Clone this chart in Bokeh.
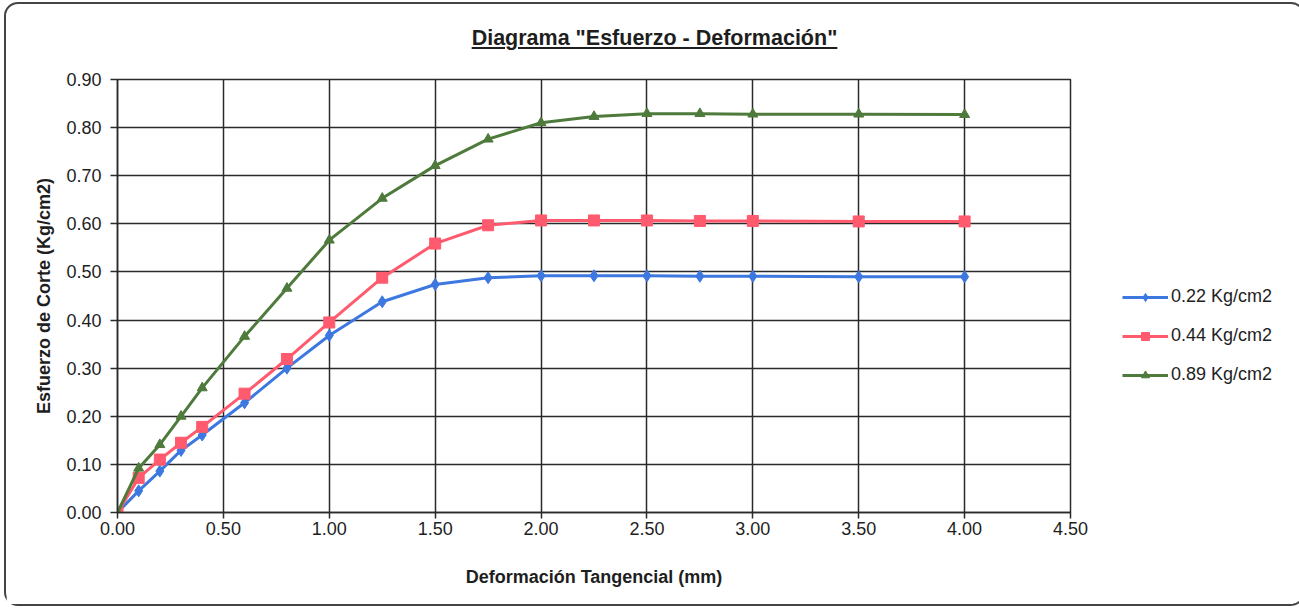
from bokeh.plotting import figure
from bokeh.models import Legend, LegendItem, Div, FixedTicker, NumeralTickFormatter
from bokeh.layouts import column, row
from bokeh.embed import file_html
from bokeh.resources import INLINE

# ---- data ----
deformacion = [0, 0.1, 0.2, 0.3, 0.4, 0.6, 0.8, 1.0, 1.25, 1.5, 1.75, 2.0, 2.25, 2.5, 2.75, 3.0, 3.5, 4.0]
esf_022 = [0, 0.045, 0.086, 0.129, 0.161, 0.228, 0.300, 0.368, 0.438, 0.474, 0.488, 0.492, 0.492, 0.492, 0.491, 0.491, 0.490, 0.490]
esf_044 = [0, 0.072, 0.110, 0.145, 0.178, 0.247, 0.319, 0.395, 0.488, 0.559, 0.597, 0.607, 0.607, 0.607, 0.606, 0.606, 0.605, 0.605]
esf_089 = [0, 0.092, 0.141, 0.200, 0.259, 0.366, 0.466, 0.566, 0.653, 0.721, 0.776, 0.810, 0.823, 0.829, 0.829, 0.828, 0.828, 0.827]
series_labels = ["0.22 Kg/cm2", "0.44 Kg/cm2", "0.89 Kg/cm2"]
x_ticks = [0, 0.5, 1.0, 1.5, 2.0, 2.5, 3.0, 3.5, 4.0, 4.5]
y_ticks = [0, 0.1, 0.2, 0.3, 0.4, 0.5, 0.6, 0.7, 0.8, 0.9]

FONT = "Liberation Sans"
GRID = "#2a2a2a"
TXT = "#1e1e1e"

title_div = Div(
    text=('<div style="font-family:\'Liberation Sans\',Arial,sans-serif;'
          'font-weight:bold;font-size:21.5px;text-decoration:underline;text-align:center;'
          'width:1287px;padding-top:14px;color:#1e1e1e;">'
          'Diagrama "Esfuerzo - Deformación"</div>'),
    width=1287, height=56)

# main chart
p = figure(width=1090, height=534, x_range=(0, 4.5), y_range=(0, 0.9),
           output_backend="svg", toolbar_location=None,
           min_border_left=111, min_border_right=26, min_border_top=9, min_border_bottom=92)
p.background_fill_color = "white"
p.border_fill_color = "white"
p.outline_line_color = GRID
p.outline_line_width = 1.5

for ax in (p.xaxis[0], p.yaxis[0]):
    ax.formatter = NumeralTickFormatter(format="0.00")
    ax.major_label_text_font = FONT
    ax.major_label_text_font_size = "18px"
    ax.major_label_text_color = TXT
    ax.axis_label_text_font = FONT
    ax.axis_label_text_font_size = "18px"
    ax.axis_label_text_font_style = "bold"
    ax.axis_label_text_color = TXT
    ax.axis_line_color = GRID
    ax.axis_line_width = 1.5
    ax.major_tick_line_color = GRID
    ax.major_tick_line_width = 1.5
    ax.major_tick_in = 0
    ax.minor_tick_line_color = None

p.xaxis[0].ticker = FixedTicker(ticks=x_ticks)
p.yaxis[0].ticker = FixedTicker(ticks=y_ticks)
p.xaxis[0].axis_label = "Deformación Tangencial (mm)"
p.yaxis[0].axis_label = "Esfuerzo de Corte (Kg/cm2)"
p.xaxis[0].major_tick_out = 6
p.xaxis[0].major_label_standoff = 3
p.xaxis[0].axis_label_standoff = 29
p.yaxis[0].major_tick_out = 7
p.yaxis[0].major_label_standoff = 9
p.yaxis[0].axis_label_standoff = 9

p.xgrid.ticker = FixedTicker(ticks=x_ticks)
p.ygrid.ticker = FixedTicker(ticks=y_ticks)
p.grid.grid_line_color = GRID
p.grid.grid_line_width = 1.5

colors = ["#3d78e0", "#ff5a6e", "#4e7a3c"]
markers = ["diamond", "square", "triangle"]
sizes = [12, 11, 10]

# legend panel (separate canvas to the right of the plot area); its ranges keep
# the series themselves out of view so only the legend is visible there
pl = figure(width=197, height=534, x_range=(100, 101), y_range=(100, 101),
            output_backend="svg", toolbar_location=None,
            min_border_left=0, min_border_right=0, min_border_top=0, min_border_bottom=0)
pl.axis.visible = False
pl.grid.visible = False
pl.outline_line_color = None
pl.background_fill_color = "white"
pl.border_fill_color = "white"

items = []
for ys, c, m, s, lab in zip([esf_022, esf_044, esf_089], colors, markers, sizes, series_labels):
    p.line(deformacion, ys, line_color=c, line_width=3)
    p.scatter(deformacion, ys, marker=m, size=s, fill_color=c, line_color=c)
    ln = pl.line(deformacion, ys, line_color=c, line_width=3)
    sc = pl.scatter(deformacion, ys, marker=m, size=s, fill_color=c, line_color=c)
    items.append(LegendItem(label=lab, renderers=[ln, sc]))

legend = Legend(items=items, location=(26, 127), glyph_width=46, glyph_height=20,
                label_height=20, spacing=18, padding=0, margin=0, label_standoff=3,
                border_line_color=None, background_fill_alpha=0,
                label_text_font=FONT, label_text_font_size="18px", label_text_color=TXT)
pl.add_layout(legend)

layout = column(title_div, row(p, pl),
                styles={"border": "2px solid #444", "border-radius": "14px",
                        "background": "white", "margin-left": "4px", "margin-top": "2px"})

open("out.html", "w").write(file_html(layout, INLINE))
